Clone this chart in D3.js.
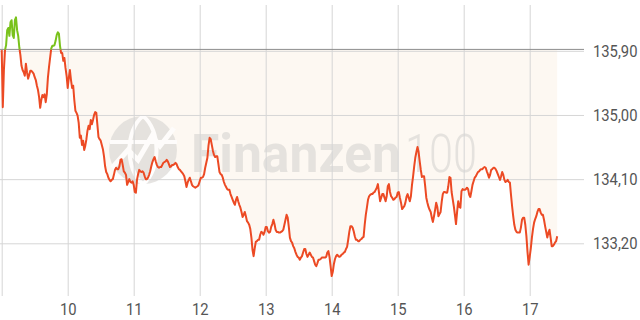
<!DOCTYPE html>
<html>
<head>
<meta charset="utf-8">
<script src="https://cdn.jsdelivr.net/npm/d3@7"></script>
<style>
  body { margin: 0; background: #fff; }
  svg { display: block; font-family: Roboto, "Noto Sans", sans-serif; }
</style>
</head>
<body>
<svg id="chart"></svg>
<script>
// intraday quotes, one per minute starting 09:00
const startTime = new Date(2024, 0, 15, 9, 0);
const endTime = new Date(2024, 0, 15, 17, 48);
const prevClose = 135.92;
const yTicks = [133.2, 134.1, 135.0, 135.9];
const prices = [
  135.91, 135.11, 135.63, 135.91, 135.98, 136.19, 136.22, 136.11, 136.30, 136.33,
  136.12, 136.08, 136.33, 136.37, 136.19, 136.11, 135.95, 135.84, 135.69, 135.63,
  135.60, 135.55, 135.72, 135.60, 135.51, 135.56, 135.62, 135.62, 135.60, 135.58,
  135.53, 135.49, 135.41, 135.35, 135.25, 135.10, 135.21, 135.28, 135.25, 135.29,
  135.18, 135.29, 135.52, 135.67, 135.80, 135.93, 135.97, 135.97, 135.98, 136.04,
  136.12, 136.16, 136.14, 135.97, 135.87, 135.87, 135.76, 135.80, 135.66, 135.55,
  135.38, 135.52, 135.63, 135.49, 135.38, 135.41, 135.21, 135.06, 135.03, 134.99,
  134.89, 134.68, 134.71, 134.58, 134.64, 134.51, 134.57, 134.66, 134.78, 134.85,
  134.80, 134.93, 134.87, 134.93, 135.00, 135.04, 135.03, 134.86, 134.69, 134.66,
  134.64, 134.58, 134.52, 134.42, 134.28, 134.20, 134.17, 134.12, 134.09, 134.07,
  134.09, 134.10, 134.16, 134.23, 134.26, 134.24, 134.24, 134.28, 134.37, 134.38,
  134.30, 134.21, 134.19, 134.16, 134.02, 134.06, 134.10, 134.06, 134.05, 134.07,
  134.02, 133.92, 133.91, 134.09, 134.17, 134.23, 134.21, 134.20, 134.21, 134.19,
  134.14, 134.10, 134.10, 134.12, 134.16, 134.21, 134.28, 134.34, 134.38, 134.41,
  134.35, 134.30, 134.27, 134.26, 134.27, 134.27, 134.30, 134.33, 134.34, 134.35,
  134.37, 134.35, 134.31, 134.27, 134.28, 134.30, 134.30, 134.31, 134.33, 134.31,
  134.27, 134.24, 134.23, 134.21, 134.19, 134.17, 134.14, 134.07, 133.99, 134.05,
  134.09, 134.12, 134.07, 134.02, 134.00, 133.99, 133.98, 133.99, 134.00, 134.02,
  134.07, 134.12, 134.12, 134.13, 134.17, 134.26, 134.33, 134.40, 134.57, 134.68,
  134.66, 134.58, 134.50, 134.44, 134.41, 134.42, 134.42, 134.31, 134.20, 134.17,
  134.16, 134.12, 134.06, 134.02, 133.99, 133.96, 133.95, 133.95, 133.89, 133.85,
  133.81, 133.77, 133.74, 133.81, 133.85, 133.79, 133.74, 133.70, 133.64, 133.57,
  133.60, 133.64, 133.58, 133.51, 133.49, 133.46, 133.40, 133.28, 133.11, 133.02,
  133.13, 133.22, 133.23, 133.25, 133.25, 133.32, 133.36, 133.35, 133.32, 133.36,
  133.43, 133.43, 133.37, 133.35, 133.36, 133.43, 133.47, 133.53, 133.47, 133.39,
  133.36, 133.36, 133.35, 133.35, 133.36, 133.37, 133.39, 133.46, 133.53, 133.60,
  133.56, 133.43, 133.28, 133.23, 133.21, 133.16, 133.13, 133.08, 133.04, 133.01,
  133.00, 132.97, 133.00, 133.02, 133.07, 133.12, 133.12, 133.05, 133.01, 133.04,
  133.07, 133.04, 133.01, 133.00, 132.95, 132.90, 132.88, 132.92, 132.97, 132.97,
  132.98, 133.00, 133.00, 133.00, 133.00, 133.01, 133.07, 133.09, 133.01, 132.88,
  132.74, 132.80, 132.91, 132.98, 133.02, 133.04, 133.02, 133.01, 133.02, 133.04,
  133.05, 133.07, 133.08, 133.12, 133.15, 133.25, 133.36, 133.44, 133.44, 133.42,
  133.37, 133.30, 133.25, 133.25, 133.23, 133.23, 133.25, 133.26, 133.28, 133.29,
  133.46, 133.60, 133.70, 133.81, 133.86, 133.88, 133.89, 133.89, 133.91, 133.92,
  133.95, 133.98, 134.03, 133.91, 133.79, 133.84, 133.89, 133.89, 133.84, 133.79,
  133.86, 134.00, 134.03, 133.92, 133.86, 133.84, 133.81, 133.82, 133.84, 133.85,
  133.91, 133.92, 133.84, 133.77, 133.68, 133.70, 133.72, 133.77, 133.85, 133.89,
  133.84, 133.79, 133.86, 134.02, 134.14, 134.28, 134.40, 134.48, 134.55, 134.48,
  134.35, 134.23, 134.13, 134.14, 134.14, 134.00, 133.84, 133.77, 133.71, 133.67,
  133.64, 133.56, 133.50, 133.58, 133.67, 133.77, 133.71, 133.58, 133.61, 133.64,
  133.78, 133.89, 133.92, 133.92, 133.91, 133.91, 134.00, 134.13, 134.12, 133.92,
  133.82, 133.72, 133.60, 133.47, 133.64, 133.79, 133.71, 133.70, 133.93, 133.96,
  133.95, 133.95, 133.96, 133.98, 133.96, 133.88, 133.85, 133.93, 134.02, 134.07,
  134.12, 134.14, 134.17, 134.20, 134.21, 134.23, 134.24, 134.24, 134.26, 134.27,
  134.26, 134.21, 134.17, 134.12, 134.16, 134.23, 134.24, 134.26, 134.26, 134.24,
  134.21, 134.17, 134.13, 134.09, 134.14, 134.20, 134.16, 134.09, 134.06, 134.07,
  134.09, 134.06, 134.05, 133.88, 133.72, 133.58, 133.46, 133.39, 133.36, 133.35,
  133.35, 133.35, 133.42, 133.53, 133.56, 133.56, 133.46, 133.30, 133.08, 132.90,
  133.01, 133.13, 133.28, 133.40, 133.49, 133.54, 133.58, 133.64, 133.68, 133.68,
  133.63, 133.60, 133.60, 133.53, 133.44, 133.36, 133.28, 133.35, 133.39, 133.28,
  133.16, 133.16, 133.18, 133.21, 133.23, 133.30
];

const data = prices.map((p, i) => ({ t: d3.timeMinute.offset(startTime, i), p: p }));

const w = 640;
const h = 320;
const plotTop = 5;
const plotBottom = 296;
const plotRight = 584;

const deFormat = d3.formatLocale({ decimal: ",", thousands: ".", grouping: [3], currency: ["", "€"] }).format(".2f");

const x = d3.scaleTime().domain([startTime, endTime]).range([1.7, 582.5]);
const y = d3.scaleLinear().domain([132.4608, 136.5428]).range([plotBottom, plotTop]);
const yRef = y(prevClose);

const svg = d3.select("#chart").attr("width", w).attr("height", h);

svg.append("defs").call((defs) => {
  defs.append("clipPath").attr("id", "above")
    .append("rect").attr("x", 0).attr("y", 0).attr("width", w).attr("height", yRef);
  defs.append("clipPath").attr("id", "below")
    .append("rect").attr("x", 0).attr("y", yRef).attr("width", w).attr("height", h - yRef);
});

// shaded area between previous close and the price
svg.append("path")
  .datum(data)
  .attr("clip-path", "url(#below)")
  .attr("fill", "#fdf8f2")
  .attr("d", d3.area().x((d) => x(d.t)).y0(yRef).y1((d) => y(d.p)));

// watermark
const wm = svg.append("g").attr("fill", "#dcdad6").attr("opacity", 0.7);
wm.append("circle").attr("cx", 143).attr("cy", 150).attr("r", 34);
wm.append("path")
  .attr("fill", "none").attr("stroke", "#fff").attr("stroke-width", 4)
  .attr("d", "M143,116 C125,130 125,170 143,184 M143,116 C161,130 161,170 143,184 M110,142 L177,142");
wm.append("path")
  .attr("fill", "none").attr("stroke", "#fff").attr("stroke-width", 5)
  .attr("d", "M112,168 L128,150 L138,160 L152,136 L160,146 L174,128");
wm.append("text").attr("x", 191).attr("y", 172)
  .attr("font-size", 54).attr("font-weight", 700)
  .attr("textLength", 210).attr("lengthAdjust", "spacingAndGlyphs")
  .text("Finanzen");
wm.append("text").attr("x", 405).attr("y", 172)
  .attr("font-size", 54).attr("font-weight", 300)
  .attr("textLength", 72).attr("lengthAdjust", "spacingAndGlyphs")
  .text("100");

// x axis with vertical grid
const xAxis = svg.append("g")
  .attr("transform", "translate(0," + plotBottom + ")")
  .call(d3.axisBottom(x)
    .ticks(d3.timeHour.every(1))
    .tickSize(-(plotBottom - plotTop))
    .tickPadding(7)
    .tickFormat(d3.timeFormat("%-H")));
xAxis.select(".domain").remove();
xAxis.selectAll("line").attr("stroke", "#d6d6d6");
xAxis.selectAll(".tick").filter((d) => d.getHours() === 9).select("text").remove();

// y axis with horizontal grid
const yAxis = svg.append("g")
  .attr("transform", "translate(" + plotRight + ",0)")
  .call(d3.axisRight(y)
    .tickValues(yTicks)
    .tickSize(-plotRight)
    .tickPadding(9)
    .tickFormat(deFormat));
yAxis.select(".domain").remove();
yAxis.selectAll("line").attr("stroke", "#d6d6d6");

svg.selectAll(".tick text")
  .attr("fill", "#555")
  .attr("font-size", 17)
  .attr("font-family", "Roboto, sans-serif")
  .attr("transform", "scale(0.87,1)");
yAxis.selectAll(".tick text").attr("x", 9 / 0.87);

// previous close line
svg.append("line")
  .attr("x1", 0).attr("x2", plotRight)
  .attr("y1", yRef).attr("y2", yRef)
  .attr("stroke", "#8c8c8c")
  .attr("stroke-width", 1);

// price line: green above previous close, red below
const line = d3.line().x((d) => x(d.t)).y((d) => y(d.p));
svg.append("path")
  .datum(data)
  .attr("clip-path", "url(#below)")
  .attr("fill", "none")
  .attr("stroke", "#ec4a24")
  .attr("stroke-width", 2)
  .attr("stroke-linejoin", "round")
  .attr("d", line);
svg.append("path")
  .datum(data)
  .attr("clip-path", "url(#above)")
  .attr("fill", "none")
  .attr("stroke", "#79c21b")
  .attr("stroke-width", 2)
  .attr("stroke-linejoin", "round")
  .attr("d", line);
</script>
</body>
</html>
